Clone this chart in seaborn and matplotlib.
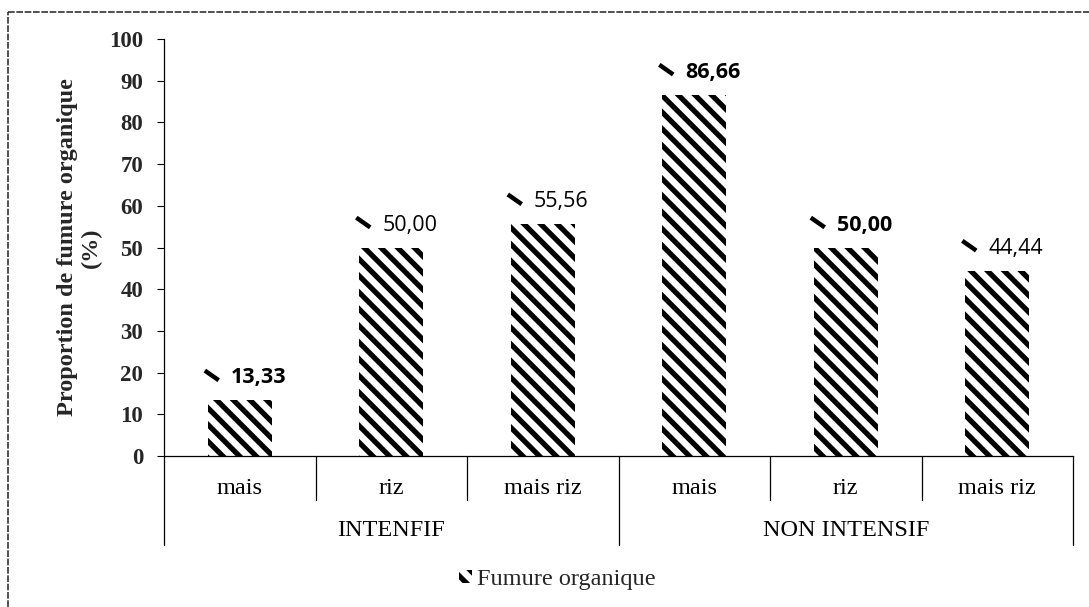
import matplotlib
matplotlib.use("Agg")
import matplotlib.pyplot as plt
from matplotlib.lines import Line2D
from matplotlib.patches import Patch
from matplotlib.offsetbox import DrawingArea, AnnotationBbox
import seaborn as sns
import pandas as pd

# ---------------- data ----------------
groups = ["INTENFIF", "INTENFIF", "INTENFIF", "NON INTENSIF", "NON INTENSIF", "NON INTENSIF"]
crops = ["mais", "riz", "mais riz", "mais", "riz", "mais riz"]
values = [13.33, 50.00, 55.56, 86.66, 50.00, 44.44]
value_labels = ["13,33", "50,00", "55,56", "86,66", "50,00", "44,44"]
group_names = ["INTENFIF", "NON INTENSIF"]
yticks = [0, 10, 20, 30, 40, 50, 60, 70, 80, 90, 100]
series_name = "Fumure organique"
ylabel = "Proportion de fumure organique\n(%)"

df = pd.DataFrame({
    "key": [f"{g}|{c}" for g, c in zip(groups, crops)],
    "group": groups,
    "crop": crops,
    "value": values,
})

# ---------------- style ----------------
sns.set_theme(style="white")
plt.rcParams["hatch.linewidth"] = 3.8
plt.rcParams["hatch.color"] = "black"
SERIF = ["Liberation Serif", "DejaVu Serif"]
SANS = ["Open Sans", "DejaVu Sans"]
label_weights = ["bold", "normal", "normal", "bold", "bold", "normal"]

W, H, DPI = 1089, 607, 100
fig = plt.figure(figsize=(W / DPI, H / DPI), dpi=DPI)
ax = fig.add_axes([164 / W, (H - 456) / H, (1073 - 164) / W, (456 - 39) / H])

sns.barplot(data=df, x="key", y="value", order=list(df["key"]), ax=ax,
            color="white", saturation=1, width=0.42, edgecolor="black",
            linewidth=0, hatch="\\\\", errorbar=None)

ax.set_xlim(-0.5, len(values) - 0.5)
ax.set_ylim(0, 100)
ax.set_yticks(yticks)
ax.set_yticklabels([str(t) for t in yticks], family=SERIF, fontweight="bold", fontsize=16.5)
ax.tick_params(axis="y", which="both", left=True, direction="out", length=5,
               width=0.8, color="black", pad=10)
ax.tick_params(axis="x", bottom=False, labelbottom=False)
ax.set_xlabel("")
ax.set_ylabel(ylabel, family=SERIF, fontweight="bold", fontsize=17.5,
              linespacing=1.15)
ax.yaxis.set_label_coords((102 - 164) / (1073 - 164), 0.5)

for s in ["top", "right"]:
    ax.spines[s].set_visible(False)
for s in ["left", "bottom"]:
    ax.spines[s].set_color("black")
    ax.spines[s].set_linewidth(0.9)

# ---------------- data labels with small legend-key marks ----------------
px = 0.72  # points per pixel at 100 dpi
for p, txt, wt in zip(ax.patches, value_labels, label_weights):
    xc = p.get_x() + p.get_width() / 2
    top = p.get_height()
    ax.annotate(txt, (xc, top), xytext=(-9 * px, 17 * px), textcoords="offset points",
                ha="left", va="baseline", family=SANS, fontsize=15.5, fontweight=wt,
                color="black", annotation_clip=False)
    da = DrawingArea(12, 9, 0, 0)
    da.add_artist(Line2D([1, 11], [8, 1], color="black", lw=3.2, solid_capstyle="butt"))
    ab = AnnotationBbox(da, (xc, top), xybox=(-28 * px, 25 * px), xycoords="data",
                        boxcoords="offset points", frameon=False, pad=0,
                        annotation_clip=False)
    ax.add_artist(ab)

# ---------------- multi-level category axis ----------------
trans = ax.get_xaxis_transform()
axh = 456 - 39
n = len(values)
for i in range(n + 1):
    b = i - 0.5
    outer = (i == 0) or (i == n) or (groups[i - 1] != groups[i])
    depth = (545 - 456) / axh if outer else (500 - 456) / axh
    ax.add_line(Line2D([b, b], [0, -depth], transform=trans, color="black",
                       lw=0.9, clip_on=False))
for i, c in enumerate(crops):
    ax.text(i, -(488 - 456) / axh, c, transform=trans, ha="center", va="center",
            family=SERIF, fontsize=17.5, color="black", clip_on=False)
for g in group_names:
    idx = [i for i, gg in enumerate(groups) if gg == g]
    ax.text(sum(idx) / len(idx), -(531 - 456) / axh, g, transform=trans,
            ha="center", va="center", family=SERIF, fontsize=17.5, color="black",
            clip_on=False)

# ---------------- legend ----------------
handle = Patch(facecolor="white", edgecolor="black", linewidth=0, hatch="\\\\")
fig.legend([handle], [series_name], loc="center", bbox_to_anchor=(557 / W, (H - 580) / H),
           frameon=False, prop={"family": SERIF, "size": 17.5}, handlelength=0.55,
           handleheight=0.45, handletextpad=0.2, borderpad=0, borderaxespad=0)

# ---------------- figure frame (left + top, dotted) ----------------
fig.add_artist(Line2D([8 / W, 8 / W], [0, 1 - 12 / H], transform=fig.transFigure,
                      color="#333333", lw=1.2, ls=(0, (4, 1))))
fig.add_artist(Line2D([8 / W, 1], [1 - 12 / H, 1 - 12 / H], transform=fig.transFigure,
                      color="#333333", lw=1.2, ls=(0, (4, 1))))

fig.savefig("out.png", dpi=DPI, facecolor="white")
